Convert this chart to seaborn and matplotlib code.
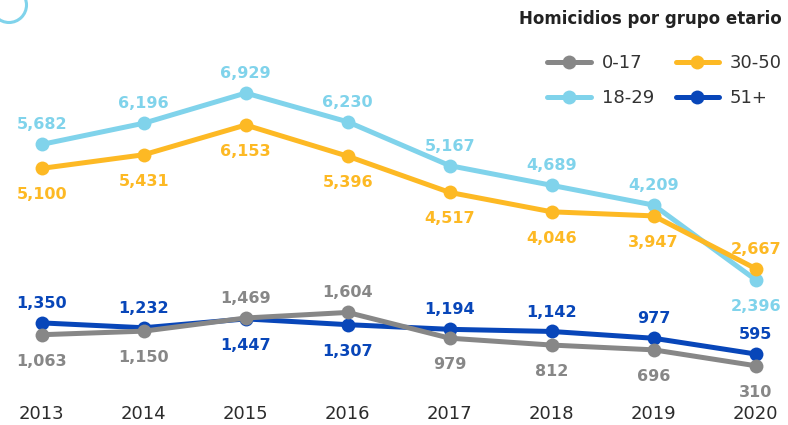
import matplotlib
matplotlib.use("Agg")
import matplotlib.pyplot as plt
import matplotlib.patches as mpatches
import seaborn as sns
import pandas as pd

years = [2013, 2014, 2015, 2016, 2017, 2018, 2019, 2020]
groups = ["0-17", "18-29", "30-50", "51+"]
v_0_17 = [1063, 1150, 1469, 1604, 979, 812, 696, 310]
v_18_29 = [5682, 6196, 6929, 6230, 5167, 4689, 4209, 2396]
v_30_50 = [5100, 5431, 6153, 5396, 4517, 4046, 3947, 2667]
v_51 = [1350, 1232, 1447, 1307, 1194, 1142, 977, 595]
# label placement: 1 = above, -1 = below
pos_0_17 = [-1, -1, 1, 1, -1, -1, -1, -1]
pos_18_29 = [1, 1, 1, 1, 1, 1, 1, -1]
pos_30_50 = [-1, -1, -1, -1, -1, -1, -1, 1]
pos_51 = [1, 1, -1, -1, 1, 1, 1, 1]
title = "Homicidios por grupo etario"

colors = {"0-17": "#878787", "18-29": "#80d3eb", "30-50": "#fdb924", "51+": "#0846b9"}
values = {"0-17": v_0_17, "18-29": v_18_29, "30-50": v_30_50, "51+": v_51}
positions = {"0-17": pos_0_17, "18-29": pos_18_29, "30-50": pos_30_50, "51+": pos_51}

rows = []
for g in groups:
    for y, v in zip(years, values[g]):
        rows.append({"year": y, "value": v, "group": g})
df = pd.DataFrame(rows)

sns.set_theme(style="white")
plt.rcParams["font.family"] = ["DejaVu Sans"]

fig = plt.figure(figsize=(7.88, 4.25), dpi=100)
ax = fig.add_axes([0, 30 / 425, 1, 395 / 425])

draw_order = ["18-29", "30-50", "51+", "0-17"]
sns.lineplot(data=df, x="year", y="value", hue="group", hue_order=draw_order,
             palette=colors, marker="o", markersize=10, markeredgewidth=0,
             linewidth=3.6, ax=ax, legend=True)

for g in groups:
    for y, v, p in zip(years, values[g], positions[g]):
        off = 14 if p > 0 else -19
        ax.annotate(f"{v:,}", (y, v), xytext=(0, off), textcoords="offset points",
                    ha="center", va="center", fontsize=11.5, fontweight="bold",
                    color=colors[g])

ax.set_xlim(2012.591, 2020.317)
ax.set_ylim(-400, 9187)
ax.set_xticks(years)
ax.set_xticklabels([str(y) for y in years])
ax.set_yticks([])
ax.set_xlabel("")
ax.set_ylabel("")
ax.tick_params(axis="x", length=0, pad=7, labelsize=13, labelcolor="#2b2b2b")
for s in ax.spines.values():
    s.set_visible(False)
ax.patch.set_alpha(0)

handles, labels = ax.get_legend_handles_labels()
hmap = dict(zip(labels, handles))
leg = ax.legend([hmap[g] for g in groups], groups, ncol=2, loc="upper right",
                bbox_to_anchor=(0.992, 1 - 54 / 425), bbox_transform=fig.transFigure,
                frameon=False, fontsize=13, handlelength=2.4, handletextpad=0.6,
                columnspacing=1.2, labelspacing=0.95, borderaxespad=0, borderpad=0)
for t in leg.get_texts():
    t.set_color("#333333")

fig.text(782 / 788, 1 - 19 / 425, title, ha="right", va="center",
         fontsize=12, fontweight="bold", color="#222222")

arc = mpatches.Ellipse((9 / 788, 1 - 5 / 425), 35 / 788, 35 / 425,
                       transform=fig.transFigure, fill=False,
                       edgecolor="#80d3eb", linewidth=2.2)
fig.patches.append(arc)

fig.savefig("out.png", dpi=100)
